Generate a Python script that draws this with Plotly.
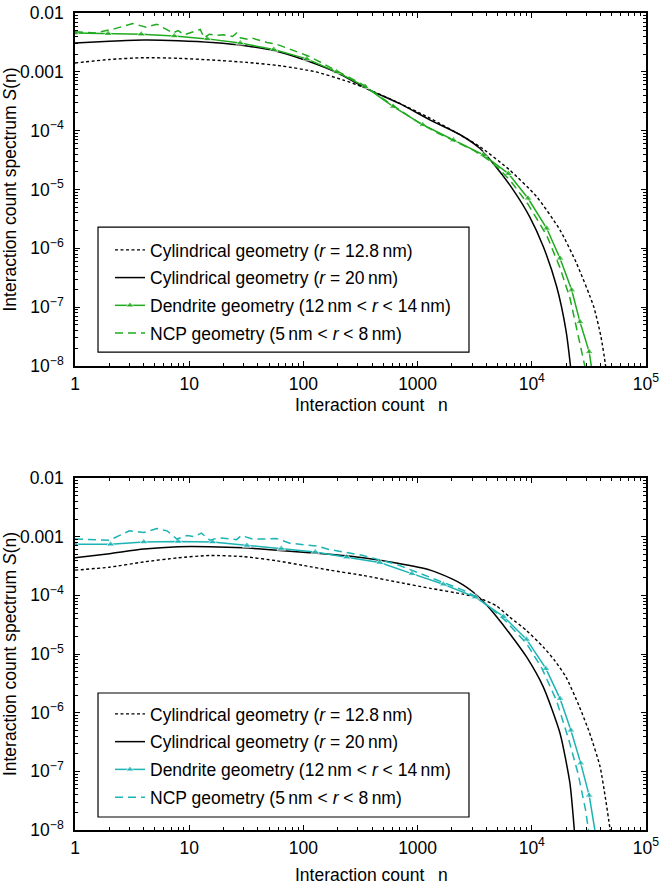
import plotly.graph_objects as go

# ---------------- upper panel (green) ----------------
# values are log10 S(n)
n_cyl128_a = [1, 2, 4, 8, 16, 32, 64, 128, 224, 333, 650, 1290, 2500, 3500, 6400,
              11000, 17660, 24700, 34800, 40300, 44000, 45500]
log_cyl128_a = [-2.85, -2.79, -2.76, -2.77, -2.80, -2.84, -2.90, -3.00, -3.14, -3.26, -3.51,
                -3.79, -4.10, -4.27, -4.67, -5.12, -5.69, -6.26, -6.99, -7.50, -7.96, -8.2]

n_cyl20_a = [1, 2, 4, 8, 16, 32, 64, 114, 200, 380, 700, 1290, 2360, 3500, 4600, 6890,
             9560, 12600, 16500, 19900, 21700, 22300]
log_cyl20_a = [-2.51, -2.48, -2.46, -2.47, -2.50, -2.56, -2.67, -2.83, -3.02, -3.31, -3.54,
               -3.82, -4.07, -4.30, -4.56, -5.01, -5.46, -5.97, -6.65, -7.39, -7.96, -8.2]

n_dend_a = [1, 1.95, 3.8, 7.4, 14.4, 28, 55, 107, 195, 347, 612, 1110, 2060, 3770, 6240,
            9260, 13500, 17660, 22350, 26400, 31800, 33800]
log_dend_a = [-2.34, -2.35, -2.36, -2.39, -2.44, -2.51, -2.62, -2.78, -3.00, -3.25, -3.59,
              -3.90, -4.16, -4.41, -4.73, -5.15, -5.66, -6.17, -6.71, -7.25, -7.76, -8.1]

n_ncp_a = [1, 1.5, 2.2, 3.2, 4.2, 5.2, 7.2, 8, 9, 10.5, 12.5, 13.5, 15, 17, 20, 24, 26,
           28, 33, 36, 40, 48, 58, 66, 80, 93, 110, 130, 170, 250, 347, 500, 700, 1000,
           1500, 2060, 3000, 4000, 5000, 6500, 9260, 13500, 17660, 21600, 25000, 29500]
log_ncp_a = [-2.32, -2.34, -2.27, -2.18, -2.24, -2.19, -2.34, -2.30, -2.37, -2.33, -2.28,
             -2.42, -2.36, -2.38, -2.37, -2.40, -2.34, -2.42, -2.45, -2.43, -2.46, -2.50,
             -2.53, -2.57, -2.62, -2.68, -2.73, -2.80, -2.92, -3.08, -3.24, -3.46, -3.65,
             -3.85, -4.04, -4.17, -4.32, -4.47, -4.62, -4.85, -5.25, -5.78, -6.33, -6.85,
             -7.40, -8.05]

# ---------------- lower panel (cyan) ----------------
n_cyl128_b = [1, 2, 4, 8, 15, 30, 58, 100, 170, 333, 650, 1290, 2500, 3500, 4900, 6400,
              9000, 12600, 16000, 19900, 26000, 32000, 39600, 44000, 48300, 50000]
log_cyl128_b = [-3.57, -3.52, -3.43, -3.36, -3.32, -3.34, -3.41, -3.49, -3.57, -3.66, -3.77,
                -3.88, -3.98, -4.05, -4.18, -4.37, -4.60, -4.88, -5.12, -5.39, -5.89, -6.34,
                -6.92, -7.44, -7.97, -8.2]

n_cyl20_b = [1, 2, 4, 8, 15, 30, 58, 170, 333, 650, 1290, 2000, 2500, 3000, 3300, 4000,
             4900, 6400, 9000, 12600, 17660, 21600, 23500, 24000]
log_cyl20_b = [-3.36, -3.29, -3.21, -3.17, -3.17, -3.19, -3.23, -3.30, -3.36, -3.45, -3.57,
               -3.72, -3.82, -3.93, -4.00, -4.16, -4.36, -4.65, -5.05, -5.56, -6.35, -7.21,
               -7.97, -8.2]

n_dend_b = [1, 2.05, 4, 8, 16, 32, 64, 127, 239, 466, 890, 1680, 3200, 5650, 9000, 13300,
            17660, 22000, 26800, 31800, 36000]
log_dend_b = [-3.13, -3.13, -3.09, -3.08, -3.09, -3.15, -3.20, -3.26, -3.35, -3.44, -3.63,
              -3.81, -4.03, -4.36, -4.75, -5.25, -5.76, -6.30, -6.86, -7.41, -8.05]

n_ncp_b = [1, 1.55, 2, 3, 4, 5.2, 6.4, 7.8, 9.6, 11, 12.8, 15.2, 18, 21, 26, 28.6, 36, 45,
           58, 76, 99, 131, 170, 333, 650, 1290, 2500, 3300, 5650, 9000, 12300, 16500,
           21000, 25500, 29500, 32500]
log_ncp_b = [-3.04, -3.05, -3.06, -2.90, -2.93, -2.86, -2.90, -3.04, -2.98, -3.00, -2.94,
             -3.06, -3.02, -3.03, -3.05, -2.98, -3.04, -3.04, -3.03, -3.11, -3.13, -3.16,
             -3.22, -3.32, -3.47, -3.69, -3.91, -4.03, -4.40, -4.82, -5.25, -5.80, -6.45,
             -7.05, -7.65, -8.2]

labels = [
    "Cylindrical geometry (<i>r</i> = 12.8\u2009nm)",
    "Cylindrical geometry (<i>r</i> = 20\u2009nm)",
    "Dendrite geometry (12\u2009nm &lt; <i>r</i> &lt; 14\u2009nm)",
    "NCP geometry (5\u2009nm &lt; <i>r</i> &lt; 8\u2009nm)",
]
x_title = "Interaction count\u2002 n"
y_title = "Interaction count spectrum <i>S</i>(n)"

x_tickvals = [1, 10, 100, 1000, 1e4, 1e5]
x_ticktext = ["1", "10", "100", "1000", "10<sup>4</sup>", "10<sup>5</sup>"]
y_tickvals = [1e-8, 1e-7, 1e-6, 1e-5, 1e-4, 1e-3, 1e-2]
y_ticktext = ["10<sup>\u22128</sup>", "10<sup>\u22127</sup>", "10<sup>\u22126</sup>",
              "10<sup>\u22125</sup>", "10<sup>\u22124</sup>", "0.001", "0.01"]

GREEN = "#1faa1f"
CYAN = "#1bb3b3"
FONT = "Liberation Sans, Arial, Helvetica, sans-serif"
FS = 17.5


def exp10(vals):
    return [10 ** v for v in vals]


fig = go.Figure()

panels = [
    ("x", "y", "legend", GREEN,
     (n_cyl128_a, log_cyl128_a), (n_cyl20_a, log_cyl20_a),
     (n_dend_a, log_dend_a), (n_ncp_a, log_ncp_a)),
    ("x2", "y2", "legend2", CYAN,
     (n_cyl128_b, log_cyl128_b), (n_cyl20_b, log_cyl20_b),
     (n_dend_b, log_dend_b), (n_ncp_b, log_ncp_b)),
]

for xa, ya, leg, col, cyl128, cyl20, dend, ncp in panels:
    fig.add_trace(go.Scatter(
        x=cyl128[0], y=exp10(cyl128[1]), xaxis=xa, yaxis=ya, legend=leg,
        legendgroup=leg + "a", name=labels[0], mode="lines",
        line=dict(color="black", width=1.4, dash="3px,2.5px", shape="spline", smoothing=0.6)))
    fig.add_trace(go.Scatter(
        x=cyl20[0], y=exp10(cyl20[1]), xaxis=xa, yaxis=ya, legend=leg,
        legendgroup=leg + "b", name=labels[1], mode="lines",
        line=dict(color="black", width=1.5, shape="spline", smoothing=0.6)))
    sizes = [7.5] * (len(dend[0]) - 1) + [0]
    fig.add_trace(go.Scatter(
        x=dend[0], y=exp10(dend[1]), xaxis=xa, yaxis=ya, legend=leg,
        legendgroup=leg + "c", name=labels[2], mode="lines+markers",
        line=dict(color=col, width=1.5),
        marker=dict(symbol="triangle-up", size=sizes, color=col)))
    fig.add_trace(go.Scatter(
        x=ncp[0], y=exp10(ncp[1]), xaxis=xa, yaxis=ya, legend=leg,
        legendgroup=leg + "d", name=labels[3], mode="lines",
        line=dict(color=col, width=1.5, dash="8px,5px")))

tick_font = dict(size=FS, color="black", family=FONT)
xaxis_common = dict(
    type="log", range=[0, 5], tickvals=x_tickvals, ticktext=x_ticktext,
    ticks="inside", ticklen=5, tickwidth=1, tickcolor="black",
    minor=dict(ticks="inside", ticklen=3, tickwidth=1, tickcolor="black", dtick="D1"),
    showline=True, linecolor="black", linewidth=1.5, mirror="allticks",
    showgrid=False, zeroline=False, ticklabelstandoff=1, tickfont=tick_font,
    ticklabeloverflow="allow", automargin=False,
)
yaxis_common = dict(
    type="log", range=[-8, -2], tickvals=y_tickvals, ticktext=y_ticktext,
    ticks="inside", ticklen=5, tickwidth=1, tickcolor="black",
    minor=dict(ticks="inside", ticklen=3, tickwidth=1, tickcolor="black", dtick="D1"),
    showline=True, linecolor="black", linewidth=1.5, mirror="allticks",
    showgrid=False, zeroline=False, ticklabelstandoff=6, tickfont=tick_font,
    title=dict(text=y_title, font=tick_font, standoff=1),
    ticklabeloverflow="allow", automargin=False,
)

legend_common = dict(
    xanchor="left", yanchor="top", x=0.0613,
    bgcolor="rgba(0,0,0,0)", borderwidth=0,
    font=dict(size=FS, color="black", family=FONT),
    tracegroupgap=2, traceorder="grouped", itemwidth=30,
)

# framed legend boxes and x-axis titles (paper coordinates)
legend_boxes = [(0.0403, 0.690, 0.585, 0.738), (0.0403, 0.690, 0.0159, 0.1677)]
shapes = [dict(type="rect", xref="paper", yref="paper", x0=a, x1=b, y0=c, y1=d,
               line=dict(color="black", width=1.2), fillcolor="white", layer="above")
          for a, b, c, d in legend_boxes]
annotations = [dict(text=x_title, xref="paper", yref="paper", x=0.52, y=yy,
                    showarrow=False, font=tick_font, xanchor="center", yanchor="middle")
               for yy in (0.5202, -0.0551)]

fig.update_layout(
    template="none",
    width=659, height=886,
    margin=dict(l=75, r=13, t=13, b=56),
    paper_bgcolor="white", plot_bgcolor="white",
    font=dict(family=FONT, size=FS, color="black"),
    xaxis=dict(xaxis_common, domain=[0, 1], anchor="y"),
    yaxis=dict(yaxis_common, domain=[0.568, 1], anchor="x"),
    xaxis2=dict(xaxis_common, domain=[0, 1], anchor="y2"),
    yaxis2=dict(yaxis_common, domain=[0, 0.4308], anchor="x2"),
    legend=dict(legend_common, y=0.732),
    legend2=dict(legend_common, y=0.164),
    shapes=shapes,
    annotations=annotations,
)

fig.write_html("out.html")
